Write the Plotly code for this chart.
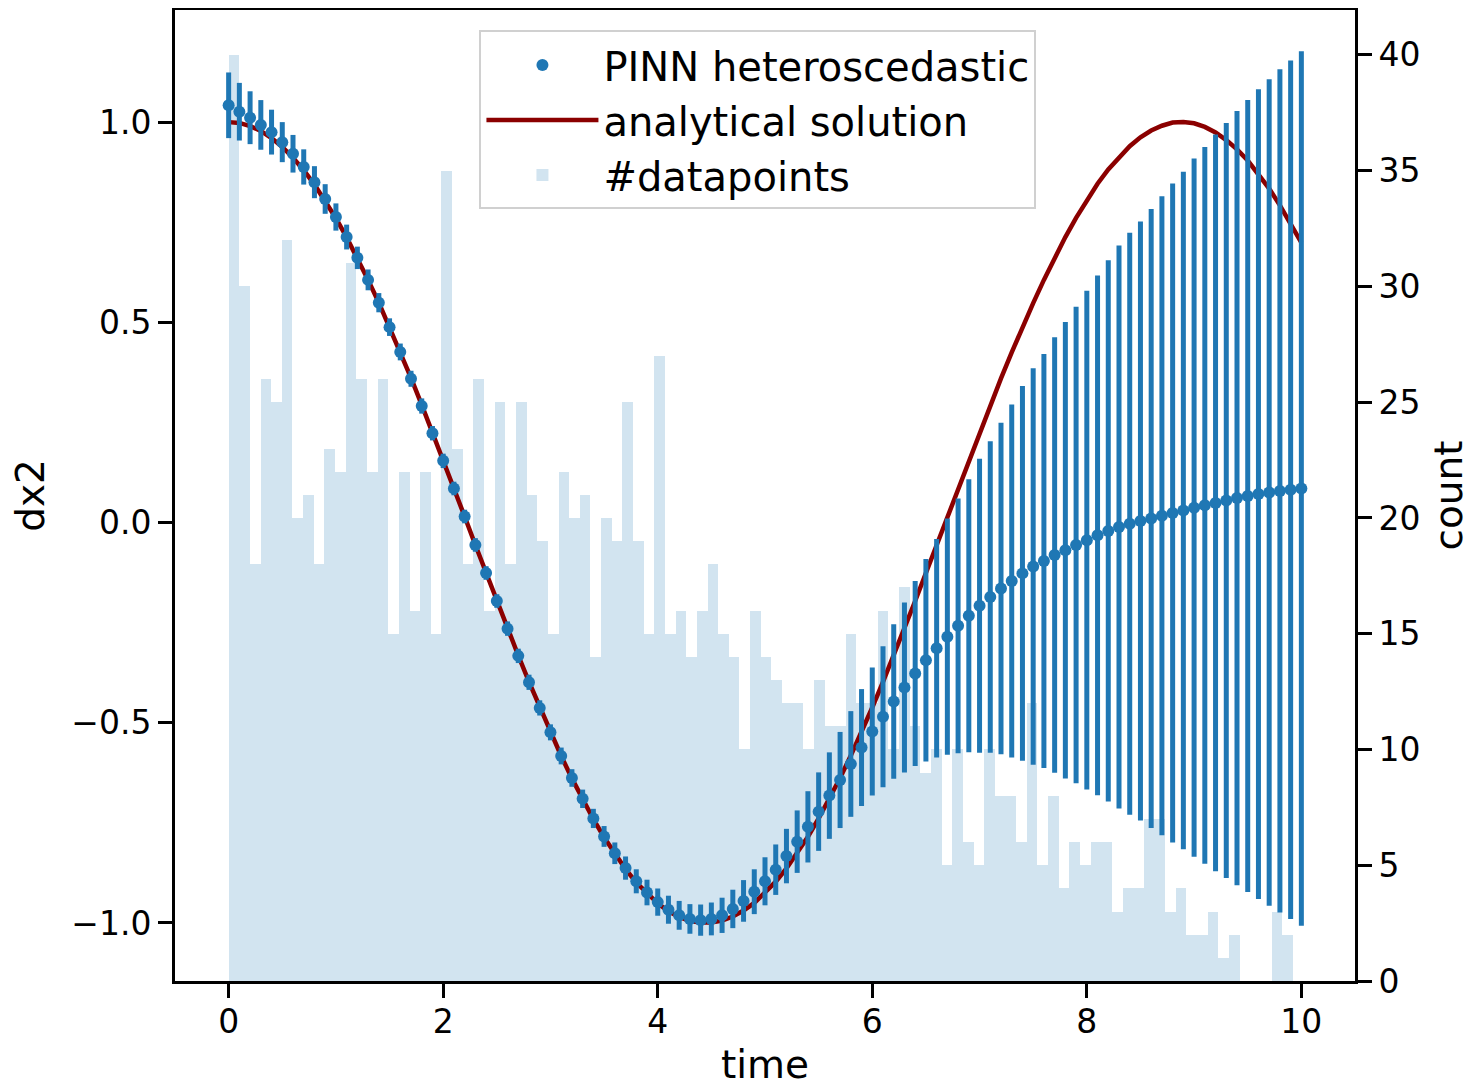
import plotly.graph_objects as go

# ---------------- data ----------------
# time grid of the PINN predictions (0.0 ... 10.0, step 0.1)
time = [round(0.1 * k, 1) for k in range(101)]

pinn_mean = [
    1.042, 1.026, 1.011, 0.993, 0.975, 0.950, 0.921, 0.888, 0.850, 0.808,
    0.763, 0.713, 0.661, 0.606, 0.549, 0.488, 0.426, 0.359, 0.291, 0.223,
    0.154, 0.085, 0.015, -0.056, -0.126, -0.196, -0.265, -0.333, -0.399, -0.463,
    -0.524, -0.583, -0.638, -0.690, -0.739, -0.784, -0.826, -0.863, -0.896, -0.924,
    -0.948, -0.967, -0.981, -0.990, -0.993, -0.990, -0.981, -0.965, -0.945, -0.922,
    -0.896, -0.867, -0.833, -0.797, -0.760, -0.722, -0.682, -0.643, -0.603, -0.562,
    -0.522, -0.485, -0.447, -0.412, -0.377, -0.344, -0.314, -0.285, -0.258, -0.233,
    -0.208, -0.186, -0.165, -0.146, -0.127, -0.110, -0.096, -0.081, -0.069, -0.056,
    -0.044, -0.032, -0.021, -0.011, -0.003, 0.004, 0.010, 0.017, 0.024, 0.030,
    0.037, 0.043, 0.049, 0.055, 0.061, 0.066, 0.071, 0.075, 0.079, 0.082,
    0.085,
]

pinn_err = [
    0.082, 0.072, 0.066, 0.062, 0.056, 0.050, 0.047, 0.044, 0.040, 0.037,
    0.034, 0.031, 0.028, 0.026, 0.024, 0.022, 0.021, 0.020, 0.019, 0.018,
    0.018, 0.017, 0.017, 0.017, 0.017, 0.017, 0.018, 0.018, 0.019, 0.019,
    0.020, 0.021, 0.022, 0.023, 0.024, 0.026, 0.027, 0.029, 0.030, 0.032,
    0.034, 0.035, 0.036, 0.037, 0.039, 0.041, 0.044, 0.048, 0.052, 0.056,
    0.060, 0.063, 0.068, 0.078, 0.089, 0.098, 0.108, 0.120, 0.132, 0.146,
    0.160, 0.176, 0.193, 0.212, 0.231, 0.253, 0.273, 0.295, 0.318, 0.341,
    0.367, 0.389, 0.414, 0.441, 0.468, 0.495, 0.517, 0.544, 0.570, 0.595,
    0.623, 0.649, 0.676, 0.703, 0.727, 0.748, 0.773, 0.798, 0.823, 0.846,
    0.872, 0.895, 0.920, 0.943, 0.967, 0.989, 1.011, 1.032, 1.053, 1.072,
    1.092,
]

analytical = [
    1.000, 0.998, 0.990, 0.978, 0.960, 0.938, 0.911, 0.880, 0.844, 0.804,
    0.760, 0.712, 0.661, 0.606, 0.549, 0.488, 0.426, 0.361, 0.294, 0.226,
    0.156, 0.086, 0.015, -0.056, -0.126, -0.196, -0.265, -0.332, -0.398, -0.462,
    -0.524, -0.583, -0.639, -0.691, -0.741, -0.786, -0.828, -0.866, -0.899, -0.927,
    -0.951, -0.971, -0.985, -0.995, -0.999, -0.999, -0.994, -0.984, -0.969, -0.950,
    -0.925, -0.897, -0.864, -0.826, -0.785, -0.739, -0.690, -0.638, -0.582, -0.523,
    -0.462, -0.398, -0.333, -0.265, -0.196, -0.126, -0.056, 0.015, 0.086, 0.156,
    0.225, 0.293, 0.360, 0.425, 0.488, 0.548, 0.606, 0.661, 0.713, 0.761,
    0.805, 0.846, 0.882, 0.913, 0.940, 0.962, 0.979, 0.991, 0.999, 1.000,
    0.997, 0.988, 0.974, 0.955, 0.932, 0.904, 0.871, 0.834, 0.792, 0.747,
    0.699,
]

# histogram of the training data times (100 bins)
hist_start = 0.0
hist_bin_width = 0.0992
hist_counts = [
    40, 30, 18, 26, 25, 32, 20, 21, 18, 23,
    22, 31, 26, 22, 26, 15, 22, 16, 22, 15,
    35, 23, 18, 26, 16, 25, 18, 25, 21, 19,
    15, 22, 20, 21, 14, 20, 19, 25, 19, 15,
    27, 15, 16, 14, 16, 18, 15, 14, 10, 16,
    14, 13, 12, 12, 10, 13, 11, 11, 15, 12,
    12, 16, 10, 17, 11, 9, 10, 5, 10, 6,
    5, 10, 8, 8, 6, 12, 5, 8, 4, 6,
    5, 6, 6, 3, 4, 4, 7, 7, 3, 4,
    2, 2, 3, 1, 2, 0, 0, 0, 3, 2,
]
hist_centers = [hist_start + (i + 0.5) * hist_bin_width for i in range(len(hist_counts))]

x_ticks = [0, 2, 4, 6, 8, 10]
left_ticks = [-1.0, -0.5, 0.0, 0.5, 1.0]
left_ticktext = ["\u22121.0", "\u22120.5", "0.0", "0.5", "1.0"]
right_ticks = [0, 5, 10, 15, 20, 25, 30, 35, 40]

# ---------------- figure ----------------
FONT = "DejaVu Sans"
BLUE = "#1f77b4"

fig = go.Figure()

fig.add_trace(go.Bar(
    x=hist_centers, y=hist_counts, width=hist_bin_width,
    marker=dict(color="rgba(31,119,180,0.2)", line=dict(width=0)),
    name="#datapoints", yaxis="y", legendrank=3,
))

fig.add_trace(go.Scatter(
    x=time, y=analytical, mode="lines",
    line=dict(color="#8b0000", width=4.5),
    name="analytical solution", yaxis="y2", legendrank=2,
))

fig.add_trace(go.Scatter(
    x=time, y=pinn_mean, mode="markers",
    marker=dict(color=BLUE, size=12),
    error_y=dict(type="data", array=pinn_err, visible=True,
                 color=BLUE, thickness=5, width=0),
    name="PINN heteroscedastic", yaxis="y2", legendrank=1,
))

axis_common = dict(
    showline=True, linecolor="black", linewidth=3,
    ticks="outside", ticklen=14, tickwidth=3, tickcolor="black",
    showgrid=False, zeroline=False, automargin=False,
    tickfont=dict(family=FONT, size=33, color="black"),
)

# the page body adds an 8px offset; margins compensate for it
fig.update_layout(
    width=1472, height=1086,
    margin=dict(l=167, r=125, t=2, b=113),
    paper_bgcolor="white", plot_bgcolor="white",
    bargap=0,
    font=dict(family=FONT, color="black"),
    xaxis=dict(
        range=[-0.5, 10.5], tickvals=x_ticks, mirror=True,
        ticklabelstandoff=-5,
        title=dict(text="time", font=dict(family=FONT, size=39), standoff=12),
        **axis_common,
    ),
    yaxis=dict(
        side="right", range=[0, 41.94], tickvals=right_ticks,
        title=dict(text="count", font=dict(family=FONT, size=39), standoff=16),
        **axis_common,
    ),
    yaxis2=dict(
        side="left", overlaying="y", range=[-1.145, 1.280],
        tickvals=left_ticks, ticktext=left_ticktext,
        title=dict(text="dx2", font=dict(family=FONT, size=39), standoff=18),
        **axis_common,
    ),
    legend=dict(
        x=0.258, y=0.979, xanchor="left", yanchor="top",
        font=dict(family=FONT, size=40, color="black"),
        bgcolor="white", bordercolor="#d0d0d0", borderwidth=2,
        itemwidth=112, traceorder="normal",
    ),
    showlegend=True,
)

fig.write_html("out.html")
